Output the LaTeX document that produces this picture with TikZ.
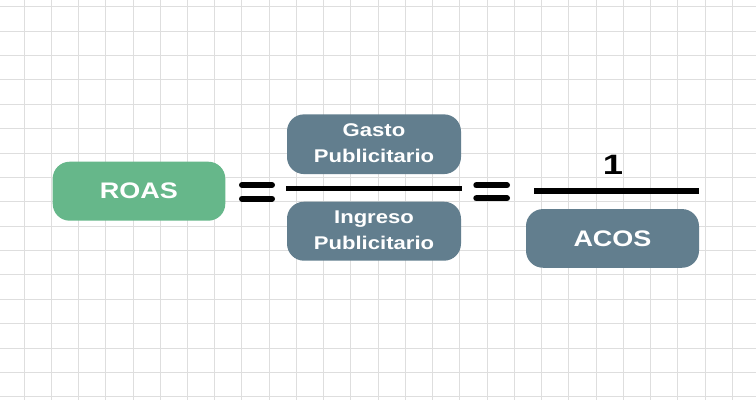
\documentclass[tikz,border=0pt]{standalone}
\usepackage{fontspec}
\setmainfont{Liberation Sans}
\definecolor{roasgreen}{RGB}{102,183,138}
\definecolor{slate}{RGB}{98,126,142}
\definecolor{gridgray}{RGB}{222,222,222}
\newcommand{\wide}[1]{\scalebox{1.2}[1]{#1}}
\tikzset{
  pill/.style={rectangle, rounded corners=17pt, text=white, font=\bfseries, inner sep=0pt},
  fracbar/.style={line width=5.5pt, black},
  eqbar/.style={line width=6pt, black, line cap=round},
}
\begin{document}
\begin{tikzpicture}[x=1pt,y=-1pt]
\useasboundingbox (0,0) rectangle (756,400);
\fill[white] (0,0) rectangle (756,400);
% grid
\foreach \k in {-1,...,27} {
  \draw[gridgray, line width=0.9pt] ({24+27.24*\k},0) -- ({24+27.24*\k},400);
}
\foreach \k in {0,...,16} {
  \draw[gridgray, line width=0.9pt] (0,{6.7+24.375*\k}) -- (756,{6.7+24.375*\k});
}
% boxes
\node[pill, fill=roasgreen, minimum width=172.6pt, minimum height=59pt] (roas) at (139,191.2)
  {\fontsize{22.5}{26}\selectfont\wide{ROAS}};
\node[pill, fill=slate, minimum width=174pt, minimum height=59.7pt] (gasto) at (374,144.2)
  {\fontsize{18.4}{27}\selectfont\wide{\begin{tabular}{@{}c@{}}Gasto\\[-0.5pt]Publicitario\end{tabular}}};
\node[pill, fill=slate, minimum width=174pt, minimum height=59pt] (ingreso) at (374,231.2)
  {\fontsize{18.4}{27}\selectfont\wide{\begin{tabular}{@{}c@{}}Ingreso\\[-0.5pt]Publicitario\end{tabular}}};
\node[pill, fill=slate, minimum width=173pt, minimum height=58.7pt] (acos) at (612.5,238.4)
  {\fontsize{22.5}{26}\selectfont\wide{ACOS}};
\node[inner sep=0pt, font=\bfseries] (one) at (613,165) {\fontsize{28}{30}\selectfont\scalebox{1.3}[1]{1}};
% fraction bars
\coordinate (f1a) at (286,188.5);
\coordinate (f1b) at (461.7,188.5);
\draw[fracbar] (f1a) -- (f1b);
\coordinate (f2a) at (534.3,190.8);
\coordinate (f2b) at (699.3,190.8);
\draw[fracbar] (f2a) -- (f2b);
% equals signs
\coordinate (e1a) at (242,185);
\coordinate (e1b) at (272,185);
\coordinate (e1c) at (242,198.7);
\coordinate (e1d) at (272,198.7);
\draw[eqbar] (e1a) -- (e1b);
\draw[eqbar] (e1c) -- (e1d);
\coordinate (e2a) at (476.3,185.3);
\coordinate (e2b) at (507,185.3);
\coordinate (e2c) at (476.3,198.4);
\coordinate (e2d) at (507,198.4);
\draw[eqbar] (e2a) -- (e2b);
\draw[eqbar] (e2c) -- (e2d);
\end{tikzpicture}
\end{document}
